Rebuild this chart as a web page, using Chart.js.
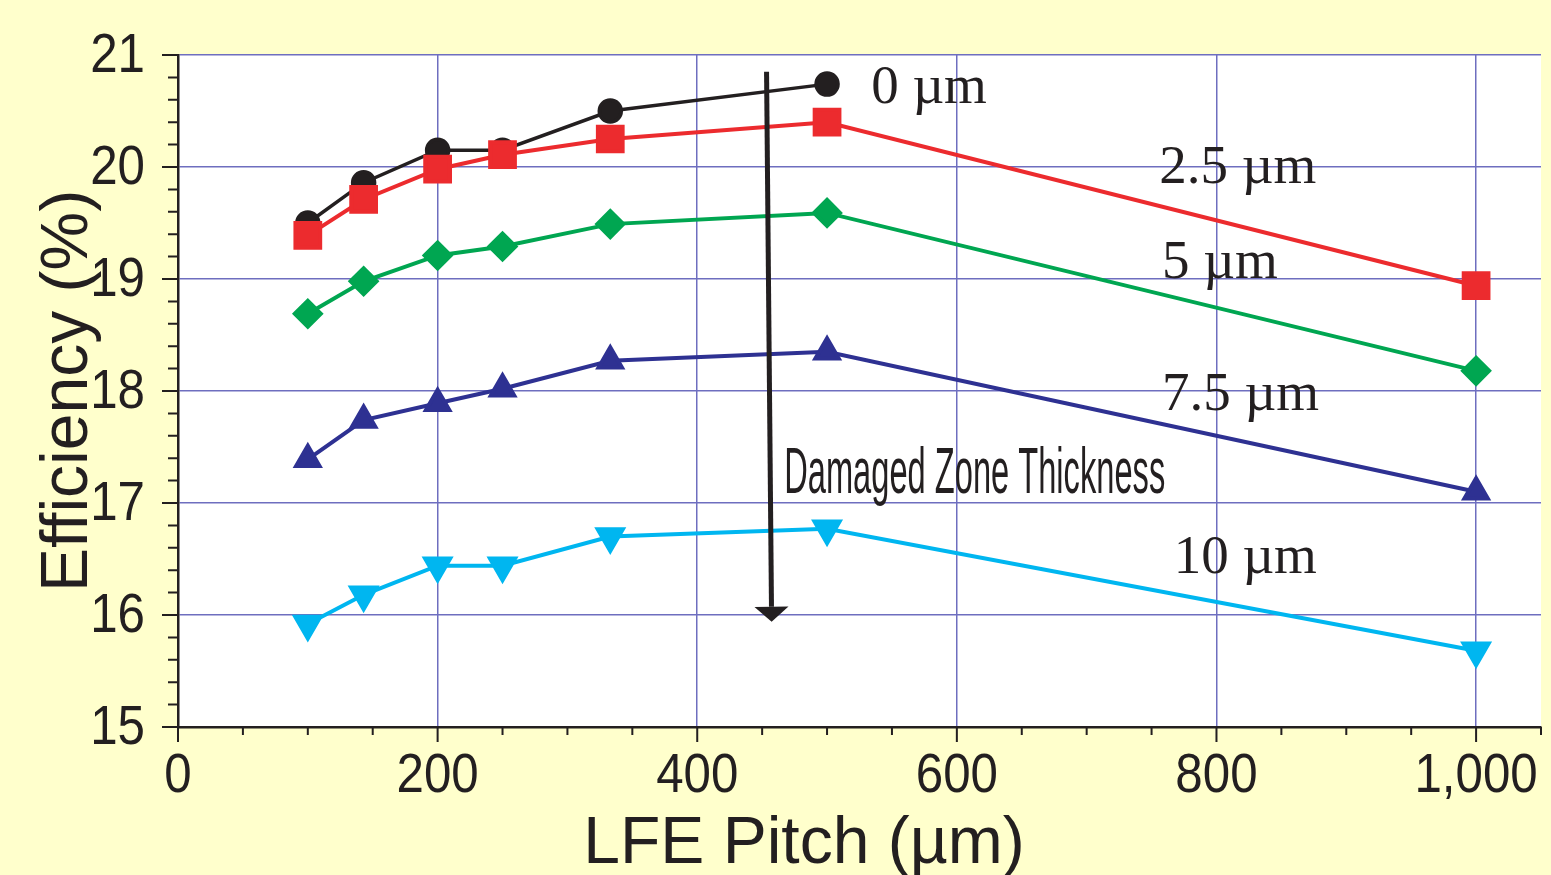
<!DOCTYPE html>
<html lang="en">
<head>
  <meta charset="UTF-8">
  <title>Efficiency vs LFE pitch</title>
  <script src="https://cdn.jsdelivr.net/npm/chart.js"></script>
  <style>
    html, body {
      margin: 0;
      padding: 0;
      background-color: #ffffcc;
    }
    #wrap {
      width: 1551px;
      height: 875px;
    }
  </style>
</head>
<body>
  <div id="wrap"><canvas id="effChart" width="1551" height="875"></canvas></div>

  <script>
    // LFE pitch (µm) on the x axis
    const pitch = [100, 143, 200, 250, 333, 500, 1000];
    // efficiency (%) for each damaged zone thickness
    const eff0 = [19.5, 19.86, 20.15, 20.15, 20.5, 20.74];
    const eff25 = [19.39, 19.71, 19.98, 20.11, 20.25, 20.4, 18.94];
    const eff5 = [18.69, 18.98, 19.21, 19.29, 19.49, 19.59, 18.18];
    const eff75 = [17.39, 17.74, 17.89, 18.02, 18.27, 18.35, 17.1];
    const eff10 = [15.92, 16.18, 16.44, 16.44, 16.7, 16.77, 15.68];

    const xTicks = [0, 200, 400, 600, 800, 1000];
    const yTicks = [15, 16, 17, 18, 19, 20, 21];

    // curve labels, placed in data units
    const labelText = ["0 µm", "2.5 µm", "5 µm", "7.5 µm", "10 µm"];
    const labelX = [534, 756, 758, 758, 767];
    const labelY = [20.57, 19.86, 19.01, 17.83, 16.375];

    // "damaged zone thickness" arrow, data units
    const arrowFrom = [453.4, 20.85];
    const arrowTo = [457.3, 15.94];
    const noteText = "Damaged Zone Thickness";
    const noteAt = [467, 17.09];

    const INK = "#231f20";
    const GRID = "#6e6ebf";
    const SANS = "'Liberation Sans', Arial, sans-serif";

    const toPoints = ys => ys.map((v, i) => ({ x: pitch[i], y: v }));

    // draws text squeezed horizontally (the original uses a condensed face)
    function squeezed(ctx, text, px, py, sx, align) {
      ctx.save();
      ctx.translate(px, py);
      ctx.scale(sx, 1);
      ctx.textAlign = align;
      ctx.fillText(text, 0, 0);
      ctx.restore();
    }

    const decor = {
      id: "decor",
      beforeDraw(chart) {
        const { ctx, chartArea: a } = chart;
        ctx.save();
        ctx.fillStyle = "#ffffff";
        ctx.fillRect(a.left, a.top, a.right - a.left, a.bottom - a.top);
        ctx.restore();
      },
      afterDraw(chart) {
        const { ctx, chartArea: a, scales: { x, y } } = chart;
        ctx.save();

        // major + minor tick marks outside the axes
        ctx.strokeStyle = INK;
        ctx.lineWidth = 2;
        ctx.beginPath();
        for (let i = 0; i <= 21; i++) {
          const v = i * 50;
          const px = x.getPixelForValue(v);
          const len = v % 200 === 0 ? 15 : 8;
          ctx.moveTo(px, a.bottom);
          ctx.lineTo(px, a.bottom + len);
        }
        for (let i = 0; i <= 30; i++) {
          const py = y.getPixelForValue(15 + i * 0.2);
          const len = i % 5 === 0 ? 16 : 10;
          ctx.moveTo(a.left, py);
          ctx.lineTo(a.left - len, py);
        }
        ctx.stroke();

        // tick labels
        ctx.fillStyle = INK;
        ctx.textBaseline = "alphabetic";
        ctx.font = "56px " + SANS;
        xTicks.forEach(v => {
          squeezed(ctx, v.toLocaleString("en-US"), x.getPixelForValue(v), a.bottom + 65, 0.88, "center");
        });
        yTicks.forEach(v => {
          squeezed(ctx, String(v), a.left - 33, y.getPixelForValue(v) + 17, 0.88, "right");
        });

        // x axis title (centred off the plot middle, like the original)
        ctx.font = "66px " + SANS;
        ctx.textAlign = "center";
        ctx.fillText("LFE Pitch (µm)", 804, 863);

        // curve labels
        ctx.font = "55px 'Liberation Serif', 'Times New Roman', serif";
        ctx.textAlign = "left";
        labelText.forEach((t, i) => {
          ctx.fillText(t, x.getPixelForValue(labelX[i]), y.getPixelForValue(labelY[i]));
        });

        // condensed note
        ctx.font = "64px " + SANS;
        squeezed(ctx, noteText, x.getPixelForValue(noteAt[0]), y.getPixelForValue(noteAt[1]), 0.51, "left");

        // arrow
        const x0 = x.getPixelForValue(arrowFrom[0]), y0 = y.getPixelForValue(arrowFrom[1]);
        const x1 = x.getPixelForValue(arrowTo[0]), y1 = y.getPixelForValue(arrowTo[1]);
        const len = Math.hypot(x1 - x0, y1 - y0);
        const dx = (x1 - x0) / len, dy = (y1 - y0) / len;
        const bx = x1 - dx * 15, by = y1 - dy * 15;
        ctx.strokeStyle = INK;
        ctx.lineWidth = 5;
        ctx.beginPath();
        ctx.moveTo(x0, y0);
        ctx.lineTo(bx, by);
        ctx.stroke();
        ctx.beginPath();
        ctx.moveTo(x1, y1);
        ctx.lineTo(bx - dy * 17, by + dx * 17);
        ctx.lineTo(bx + dy * 17, by - dx * 17);
        ctx.closePath();
        ctx.fill();

        ctx.restore();
      }
    };

    new Chart(document.getElementById("effChart"), {
      type: "line",
      data: {
        datasets: [
          {
            label: "0 µm", data: toPoints(eff0), order: 1,
            borderColor: INK, backgroundColor: INK, borderWidth: 3.5,
            pointStyle: "circle", pointRadius: 11
          },
          {
            label: "2.5 µm", data: toPoints(eff25), order: 0,
            borderColor: "#ec2b2e", backgroundColor: "#ec2b2e", borderWidth: 4,
            pointStyle: "rect", pointRadius: 17.5
          },
          {
            label: "5 µm", data: toPoints(eff5), order: 2,
            borderColor: "#00a651", backgroundColor: "#00a651", borderWidth: 4,
            pointStyle: "rectRot", pointRadius: 13
          },
          {
            label: "7.5 µm", data: toPoints(eff75), order: 3,
            borderColor: "#2e3192", backgroundColor: "#2e3192", borderWidth: 4,
            pointStyle: "triangle", pointRadius: 13.5
          },
          {
            label: "10 µm", data: toPoints(eff10), order: 4,
            borderColor: "#00b6f0", backgroundColor: "#00b6f0", borderWidth: 4,
            pointStyle: "triangle", pointRotation: 180, pointRadius: 14.5
          }
        ]
      },
      options: {
        responsive: false,
        animation: false,
        devicePixelRatio: 1,
        layout: { autoPadding: false, padding: { left: 0, top: 55, right: 10, bottom: 0 } },
        plugins: {
          legend: { display: false },
          tooltip: { enabled: false }
        },
        elements: {
          line: { tension: 0 },
          point: { borderWidth: 0, hoverRadius: 0 }
        },
        scales: {
          x: {
            type: "linear",
            min: 0,
            max: 1050,
            afterBuildTicks: s => { s.ticks = xTicks.map(v => ({ value: v })); },
            afterFit: s => { s.height = 148; },
            border: { display: true, color: INK, width: 2.5 },
            grid: {
              drawTicks: false,
              color: c => (c.tick && c.tick.value === 0 ? "rgba(0,0,0,0)" : GRID),
              lineWidth: 1.5
            },
            ticks: { display: false }
          },
          y: {
            min: 15,
            max: 21,
            afterBuildTicks: s => { s.ticks = yTicks.map(v => ({ value: v })); },
            afterFit: s => { s.width = 178; },
            border: { display: true, color: INK, width: 2.5 },
            grid: {
              drawTicks: false,
              color: c => (c.tick && c.tick.value === 15 ? "rgba(0,0,0,0)" : GRID),
              lineWidth: 1.5
            },
            ticks: { display: false },
            title: {
              display: true,
              text: "Efficiency (%)",
              color: INK,
              font: { family: SANS, size: 66, lineHeight: 1 },
              padding: { top: 36, bottom: 0 }
            }
          }
        }
      },
      plugins: [decor]
    });
  </script>
</body>
</html>
